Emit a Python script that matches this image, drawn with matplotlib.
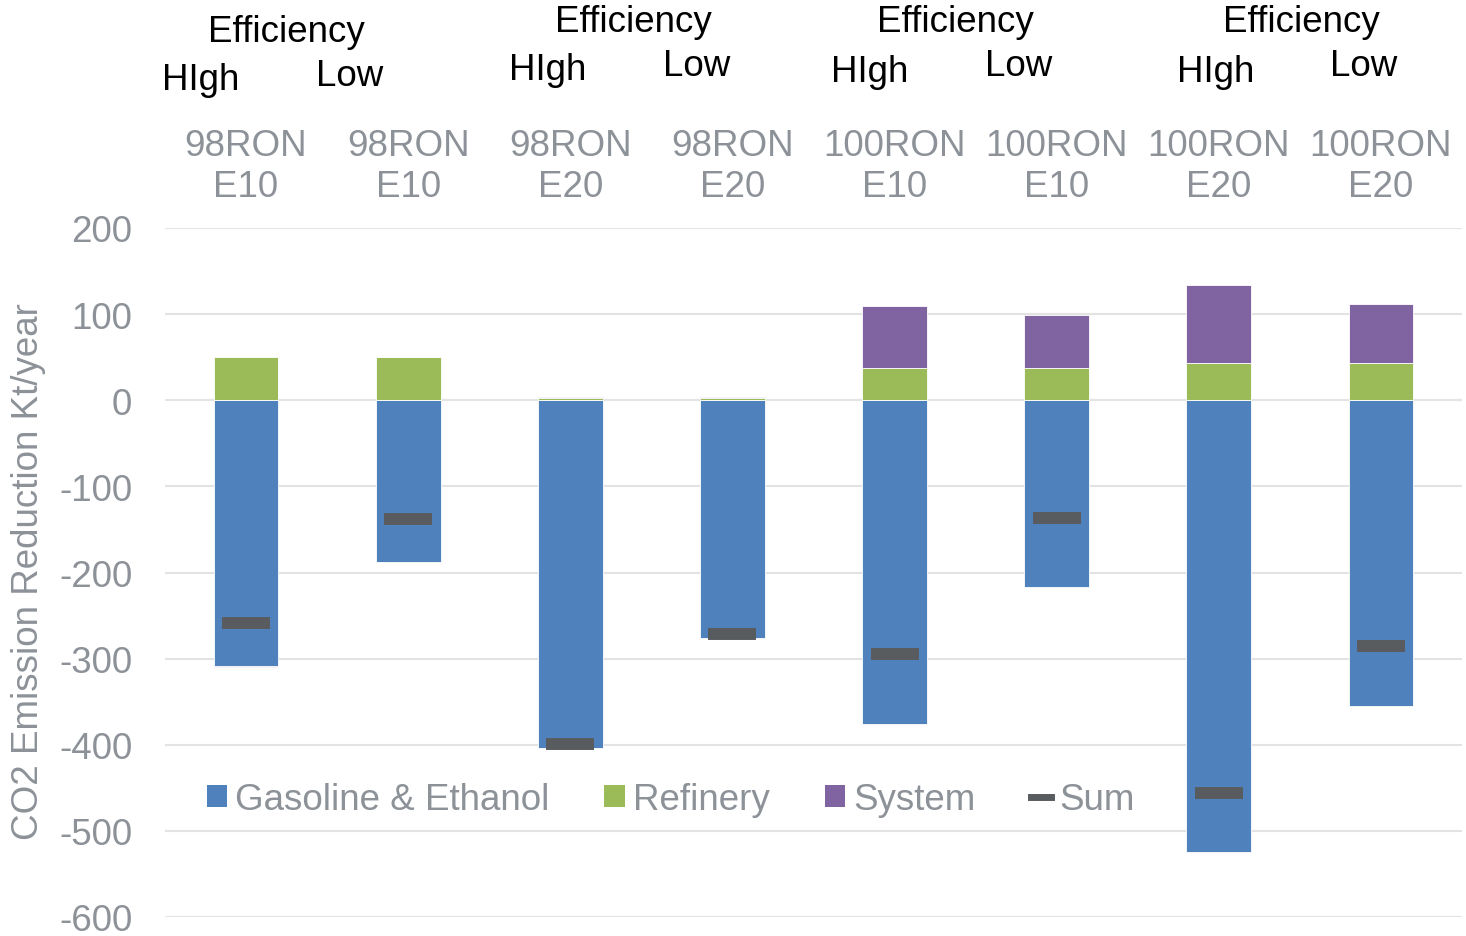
import matplotlib
matplotlib.use("Agg")
import matplotlib.pyplot as plt
from matplotlib.patches import Patch
from matplotlib.lines import Line2D
import numpy as np

# -----------------------------------------------------------------------------
# data
# -----------------------------------------------------------------------------
categories = ["98RON\nE10", "98RON\nE10", "98RON\nE20", "98RON\nE20",
              "100RON\nE10", "100RON\nE10", "100RON\nE20", "100RON\nE20"]
gasoline_ethanol = [-308, -188, -404, -276, -376, -217, -525, -355]
refinery = [50, 50, 2.5, 2.5, 37.5, 37.5, 43.5, 43.5]
system = [-1.5, 0, 1.5, 1.5, 72, 61, 90, 68]
sums = [-259, -138, -399, -271, -295, -137, -456, -285]

yticks = [200, 100, 0, -100, -200, -300, -400, -500, -600]

# header notes above the chart: (text, x px, y px)
notes = [
    ("Efficiency", 286, 33), ("HIgh", 201, 80), ("Low", 350, 77),
    ("Efficiency", 633, 22), ("HIgh", 548, 71), ("Low", 697, 67),
    ("Efficiency", 955, 22), ("HIgh", 870, 72), ("Low", 1019, 67),
    ("Efficiency", 1301, 22), ("HIgh", 1216, 72), ("Low", 1364, 67),
]

# -----------------------------------------------------------------------------
# style
# -----------------------------------------------------------------------------
C_GAS = "#4F81BD"
C_REF = "#9BBB59"
C_SYS = "#8064A2"
C_SUM = "#595C5F"
C_GREY = "#8C9298"
C_GRID = "#E3E3E3"
FS = 26.5

plt.rcParams["font.family"] = ["Liberation Sans", "DejaVu Sans"]

W, H = 1466, 937
fig = plt.figure(figsize=(W / 100, H / 100), dpi=100)
ax = fig.add_axes([165 / W, 1 - 918 / H, (1462 - 165) / W, (918 - 229) / H])

x = np.arange(len(categories))
bw = 0.4
gas = np.array(gasoline_ethanol, dtype=float)
ref = np.array(refinery, dtype=float)
sysv = np.array(system, dtype=float)

# stacked bars: positives stack upward from 0, negatives downward
pos_base = np.zeros(len(x))
neg_base = np.zeros(len(x))
for vals, col in [(gas, C_GAS), (ref, C_REF), (sysv, C_SYS)]:
    bottoms = np.where(vals >= 0, pos_base, neg_base)
    ax.bar(x, vals, bw, bottom=bottoms, color=col, edgecolor="white",
           linewidth=0.6, zorder=2)
    pos_base = pos_base + np.where(vals >= 0, vals, 0)
    neg_base = neg_base + np.where(vals < 0, vals, 0)

ax.plot(x, sums, linestyle="none", marker="_", markersize=34.5,
        markeredgewidth=8.6, color=C_SUM, zorder=3)

ax.set_xlim(-0.5, 7.5)
ax.set_ylim(-600, 200)
ax.set_yticks(yticks)
ax.set_yticklabels([str(v) for v in yticks])
ax.yaxis.grid(True, color=C_GRID, linewidth=1.5, zorder=0)
ax.set_axisbelow(True)
for s in ax.spines.values():
    s.set_visible(False)

ax.xaxis.tick_top()
ax.set_xticks(x)
ax.set_xticklabels(categories, linespacing=1.2)
ax.tick_params(axis="both", length=0, labelsize=FS, colors=C_GREY)
ax.tick_params(axis="x", pad=17.5)
ax.tick_params(axis="y", pad=23.5)

ax.set_ylabel("CO2 Emission Reduction Kt/year", fontsize=FS, color=C_GREY)
ax.yaxis.label.set_va("center")
ax.yaxis.set_label_coords((29 - 165) / 1297, (918 - 572) / 689)

for txt, px, py in notes:
    fig.text(px / W, 1 - py / H, txt, ha="center", va="center",
             fontsize=FS, color="black")

handles = [
    Patch(facecolor=C_GAS, label="Gasoline & Ethanol"),
    Patch(facecolor=C_REF, label="Refinery"),
    Patch(facecolor=C_SYS, label="System"),
    Line2D([], [], color=C_SUM, linewidth=5, label="Sum"),
]
leg = ax.legend(handles=handles, loc="center left",
                bbox_to_anchor=(0.032, 0.170), ncol=4, frameon=False,
                fontsize=FS, handlelength=0.55, handleheight=0.55,
                handletextpad=0.22, columnspacing=1.5, borderpad=0,
                borderaxespad=0)
for t in leg.get_texts():
    t.set_color(C_GREY)

fig.savefig("out.png", dpi=100)
